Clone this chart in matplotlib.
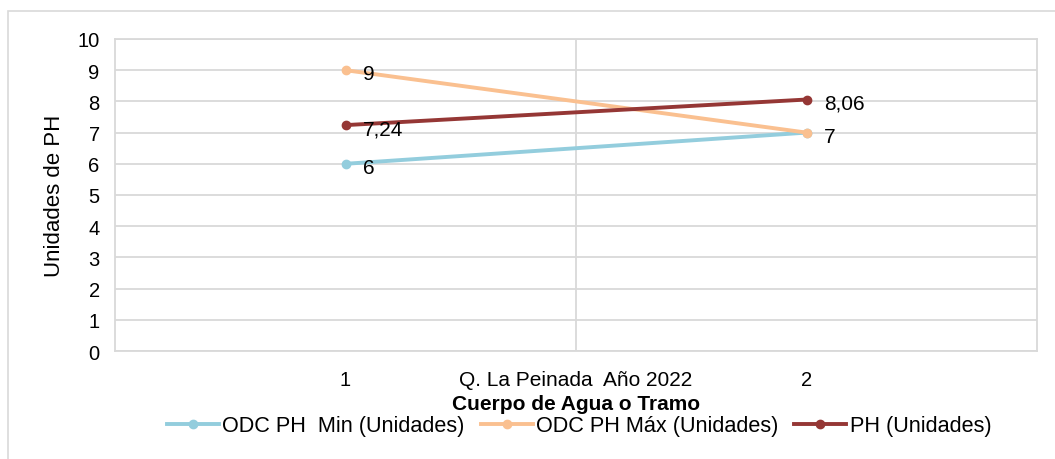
import matplotlib
matplotlib.use('Agg')
import matplotlib.pyplot as plt
from matplotlib.patches import Rectangle

plt.rcParams['font.family'] = ['Liberation Sans', 'DejaVu Sans']

categories = [1, 2]
tick_labels = ['1', '2']
group_label = 'Q. La Peinada  Año 2022'
odc_min = [6, 7]
odc_max = [9, 7]
ph = [7.24, 8.06]
ph_labels = ['7,24', '8,06']

series = [
    ('ODC PH  Min (Unidades)', odc_min, '#93CDDD', ['6', '7']),
    ('ODC PH Máx (Unidades)', odc_max, '#FAC090', ['9', '7']),
    ('PH (Unidades)', ph, '#953735', ph_labels),
]

fs = 15

fig = plt.figure(figsize=(10.55, 4.6), dpi=100)
ax = fig.add_axes([115 / 1055, 1 - 352 / 460, 922 / 1055, 312 / 460])

for name, vals, color, labels in series:
    ax.plot(categories, vals, '-o', color=color, lw=2.8, ms=6, label=name)

# data labels (the "7" for the min series sits under the max one)
for name, vals, color, labels in series:
    for i, (x, y) in enumerate(zip(categories, vals)):
        if name.startswith('ODC PH  Min') and i == 1:
            continue
        ax.annotate(labels[i], (x, y), xytext=(12.5, -2.5), textcoords='offset points',
                    ha='left', va='center', fontsize=fs, color='black')

ax.set_xlim(0.5, 2.5)
ax.set_ylim(0, 10)
ax.set_yticks(range(0, 11))
ax.set_xticks(categories)
ax.set_xticklabels(tick_labels)
ax.set_xticks([1.5], minor=True)
ax.grid(True, axis='y', color='#D9D9D9', lw=1.3)
ax.grid(True, axis='x', which='minor', color='#D9D9D9', lw=1.3)
ax.set_axisbelow(True)
ax.tick_params(axis='both', which='both', length=0, labelsize=14.5)
ax.tick_params(axis='x', pad=14)
ax.tick_params(axis='y', pad=11)
for s in ax.spines.values():
    s.set_color('#D9D9D9')
    s.set_linewidth(1.3)

ax.text(1.5, -0.06, group_label, transform=ax.get_xaxis_transform(),
        ha='center', va='top', fontsize=fs)
ax.set_xlabel('Cuerpo de Agua o Tramo', fontsize=fs, fontweight='bold', labelpad=3)
ax.set_ylabel('Unidades de PH', fontsize=16, labelpad=9)

ax.legend(loc='center', bbox_to_anchor=(579 / 1055, 1 - 427 / 460), bbox_transform=fig.transFigure,
          ncol=3, frameon=False, fontsize=15.6, handlelength=2.4, handletextpad=0.15,
          columnspacing=0.75, borderaxespad=0)

fig.patches.append(Rectangle((8 / 1055, -0.1), 1.2, 1.1 - 12 / 460,
                             transform=fig.transFigure, fill=False,
                             edgecolor='#D9D9D9', lw=1.2))

fig.savefig('out.png', dpi=100)
